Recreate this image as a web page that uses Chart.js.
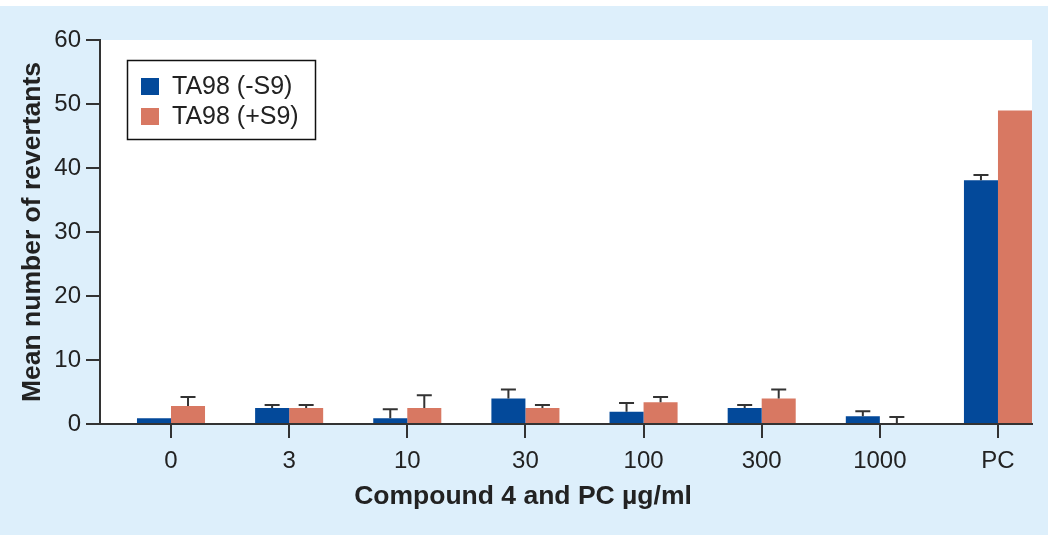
<html>

<head>
    <title>Revertants</title>
    <script src="https://cdn.jsdelivr.net/npm/chart.js"></script>
    <style>
        body { margin: 0; background: #fff; }
        #box { width: 1050px; height: 535px; }
    </style>
</head>

<body>
    <div id="box">
        <canvas id="revertants" width="1050" height="535"></canvas>
    </div>
</body>
<script>
    // categories and values
    const doses = ['0', '3', '10', '30', '100', '300', '1000', 'PC']
    const minusS9 = [0.9, 2.5, 0.9, 4.0, 1.9, 2.5, 1.2, 38.1]
    const minusS9Err = [0, 0.45, 1.4, 1.4, 1.4, 0.45, 0.8, 0.8]
    const plusS9 = [2.8, 2.5, 2.5, 2.5, 3.4, 4.0, 0, 49]
    const plusS9Err = [1.4, 0.45, 2.0, 0.45, 0.8, 1.4, 1.1, 0]
    const yTicks = [0, 10, 20, 30, 40, 50, 60]

    const FONT = '"Liberation Sans", Arial, Helvetica, sans-serif'
    const BLUE = '#03499a'
    const ORANGE = '#d87862'
    const INK = '#222'

    const toPoints = vals => vals.map((v, i) => ({ x: i, y: v }))

    // page background, light blue panel and white plot area
    const backdrop = {
        id: 'backdrop',
        beforeDraw(chart) {
            const { ctx, chartArea: a } = chart
            ctx.save()
            ctx.fillStyle = '#fff'
            ctx.fillRect(0, 0, chart.width, chart.height)
            ctx.fillStyle = '#ddeffb'
            ctx.fillRect(0, 6, 1048, 529)
            ctx.fillStyle = '#fff'
            ctx.fillRect(a.left, a.top, a.right - a.left, a.bottom - a.top)
            ctx.restore()
        }
    }

    // one-sided error bars above each bar
    const errorBars = {
        id: 'errorBars',
        afterDatasetsDraw(chart) {
            const { ctx } = chart
            const y = chart.scales.y
            ctx.save()
            ctx.strokeStyle = '#333'
            ctx.lineWidth = 2
            chart.data.datasets.forEach((ds, i) => {
                const meta = chart.getDatasetMeta(i)
                meta.data.forEach((bar, j) => {
                    const err = ds.errors[j]
                    if (!err) return
                    const top = y.getPixelForValue(ds.data[j].y + err)
                    ctx.beginPath()
                    ctx.moveTo(bar.x, bar.y)
                    ctx.lineTo(bar.x, top)
                    ctx.moveTo(bar.x - 7.5, top)
                    ctx.lineTo(bar.x + 7.5, top)
                    ctx.stroke()
                })
            })
            ctx.restore()
        }
    }

    // boxed legend inside the plot
    const boxLegend = {
        id: 'boxLegend',
        afterDraw(chart) {
            const { ctx } = chart
            ctx.save()
            ctx.strokeStyle = '#111'
            ctx.lineWidth = 1.5
            ctx.strokeRect(127.5, 60.5, 188, 79)
            ctx.font = '25px ' + FONT
            ctx.textBaseline = 'middle'
            chart.data.datasets.forEach((ds, i) => {
                const top = 78 + i * 30
                ctx.fillStyle = ds.backgroundColor
                ctx.fillRect(141, top, 18, 17)
                ctx.fillStyle = INK
                ctx.fillText(ds.label, 172, top + 9)
            })
            ctx.restore()
        }
    }

    new Chart(document.getElementById('revertants'), {
        type: 'bar',
        data: {
            datasets: [{
                label: 'TA98 (-S9)',
                data: toPoints(minusS9),
                errors: minusS9Err,
                backgroundColor: BLUE,
            }, {
                label: 'TA98 (+S9)',
                data: toPoints(plusS9),
                errors: plusS9Err,
                backgroundColor: ORANGE,
            }]
        },
        options: {
            responsive: false,
            animation: false,
            categoryPercentage: 0.576,
            barPercentage: 1,
            layout: { padding: { top: 40, right: 18, left: 14, bottom: 0 } },
            plugins: {
                legend: { display: false },
                tooltip: { enabled: false },
                title: {
                    display: true,
                    position: 'bottom',
                    text: 'Compound 4 and PC µg/ml',
                    color: INK,
                    font: { family: FONT, size: 26.5, weight: 'bold', lineHeight: 1 },
                    padding: { top: 9, bottom: 25 }
                }
            },
            scales: {
                x: {
                    type: 'linear',
                    offset: false,
                    min: -0.601,
                    max: 7.288,
                    afterBuildTicks: scale => { scale.ticks = doses.map((d, i) => ({ value: i })) },
                    afterFit: scale => { scale.height = 50.5 },
                    grid: { offset: false, drawOnChartArea: false, drawTicks: true, tickLength: 14, color: '#333', lineWidth: 2 },
                    border: { display: true, color: '#333', width: 2 },
                    ticks: {
                        autoSkip: false,
                        maxRotation: 0,
                        padding: 9,
                        color: INK,
                        font: { family: FONT, size: 24 },
                        callback: value => doses[value]
                    }
                },
                y: {
                    min: 0,
                    max: 60,
                    afterBuildTicks: scale => { scale.ticks = yTicks.map(v => ({ value: v })) },
                    afterFit: scale => { scale.width = 86 },
                    grid: { drawOnChartArea: false, drawTicks: true, tickLength: 14, color: '#333', lineWidth: 2 },
                    border: { display: true, color: '#333', width: 2 },
                    ticks: { padding: 5, color: INK, font: { family: FONT, size: 24 } },
                    title: {
                        display: true,
                        text: 'Mean number of revertants',
                        color: INK,
                        font: { family: FONT, size: 26.5, weight: 'bold', lineHeight: 1.2 },
                        padding: { top: 3, bottom: 0 }
                    }
                }
            }
        },
        plugins: [backdrop, errorBars, boxLegend]
    })
</script>

</html>
